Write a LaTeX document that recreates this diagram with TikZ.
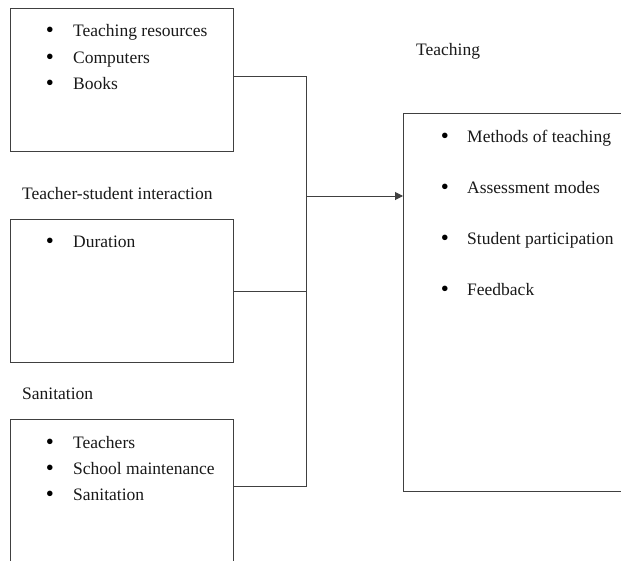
\documentclass[tikz,border=0pt]{standalone}
\usepackage{fontspec}
\setmainfont{Liberation Serif}
\usetikzlibrary{arrows.meta}
\begin{document}
\begin{tikzpicture}[x=1pt,y=-1pt,
  box/.style={draw=black!75,line width=1pt,rectangle,anchor=north west,inner sep=0pt},
  txt/.style={anchor=base west,inner sep=0pt,font=\fontsize{17.5}{21}\selectfont,text=black!90},
  bul/.style={anchor=base,inner sep=0pt,yshift=-1pt,font=\fontsize{23}{26}\selectfont},
  link/.style={draw=black!75,line width=1pt}]
\useasboundingbox (0,0) rectangle (621,560);
\clip (0,0) rectangle (621,560);
% boxes
\node[box,minimum width=223pt,minimum height=143pt] (b1) at (10,8) {};
\node[box,minimum width=223pt,minimum height=143pt] (b2) at (10,219) {};
\node[box,minimum width=223pt,minimum height=170pt] (b3) at (10,419) {};
\node[box,minimum width=240pt,minimum height=378pt] (b4) at (403,113) {};
% labels
\node[txt] (l1) at (22,199) {Teacher-student interaction};
\node[txt] (l2) at (22,399) {Sanitation};
\node[txt] (l3) at (416,55) {Teaching};
% box 1 items
\node[bul] (p1) at (50,36) {•}; \node[txt] (t1) at (73,36) {Teaching resources};
\node[bul] (p2) at (50,63) {•}; \node[txt] (t2) at (73,63) {Computers};
\node[bul] (p3) at (50,89) {•}; \node[txt] (t3) at (73,89) {Books};
% box 2
\node[bul] (p4) at (50,247) {•}; \node[txt] (t4) at (73,247) {Duration};
% box 3
\node[bul] (p5) at (50,448) {•}; \node[txt] (t5) at (73,448) {Teachers};
\node[bul] (p6) at (50,474) {•}; \node[txt] (t6) at (73,474) {School maintenance};
\node[bul] (p7) at (50,500) {•}; \node[txt] (t7) at (73,500) {Sanitation};
% box 4
\node[bul] (p8) at (445,142) {•}; \node[txt] (t8) at (467,142) {Methods of teaching};
\node[bul] (p9) at (445,193) {•}; \node[txt] (t9) at (467,193) {Assessment modes};
\node[bul] (p10) at (445,244) {•}; \node[txt] (t10) at (467,244) {Student participation};
\node[bul] (p11) at (445,295) {•}; \node[txt] (t11) at (467,295) {Feedback};
% connectors
\coordinate (jt) at (306,76);
\coordinate (jm) at (306,291);
\coordinate (jb) at (306,486);
\coordinate (ja) at (306,196);
\draw[link] (b1.east|-jt) -- (jt) -- (jb) -- (b3.east|-jb);
\draw[link] (b2.east|-jm) -- (jm);
\draw[link,-{Triangle[length=8pt,width=8pt]}] (ja) -- (b4.west|-ja);
\end{tikzpicture}
\end{document}
